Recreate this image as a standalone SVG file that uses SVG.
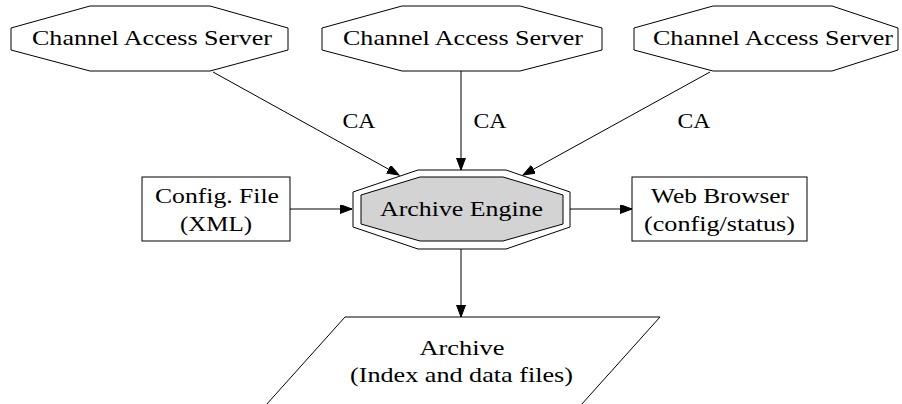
<svg xmlns="http://www.w3.org/2000/svg" width="902" height="404" viewBox="0 0 902 404">
<style>
.n{fill:#fff;stroke:#000;stroke-width:1}
.g{fill:#d3d3d3;stroke:#000;stroke-width:1}
.e{fill:none;stroke:#000;stroke-width:1}
.t{font-family:'Liberation Serif','Times New Roman',serif;font-size:21px;fill:#000;text-anchor:middle}
</style>
<defs>
<marker id="ah" markerUnits="userSpaceOnUse" markerWidth="13" markerHeight="10" refX="12" refY="4.5" orient="auto">
<path d="M0,0 L12,4.5 L0,9 z" fill="#000" stroke="#000" stroke-width="1"/>
</marker>
</defs>
<rect width="902" height="404" fill="#fff"/>
<g id="edges">
<path class="e" d="M213,72 L399,175" marker-end="url(#ah)"/>
<path class="e" d="M461,71 L461,170" marker-end="url(#ah)"/>
<path class="e" d="M710,72 L523,175" marker-end="url(#ah)"/>
<path class="e" d="M290,209 L352,209" marker-end="url(#ah)"/>
<path class="e" d="M570,209 L632,209" marker-end="url(#ah)"/>
<path class="e" d="M461,249 L461,317" marker-end="url(#ah)"/>
<text class="t" x="359" y="128" textLength="33" lengthAdjust="spacingAndGlyphs">CA</text>
<text class="t" x="490" y="128" textLength="33" lengthAdjust="spacingAndGlyphs">CA</text>
<text class="t" x="694" y="128" textLength="33" lengthAdjust="spacingAndGlyphs">CA</text>
</g>
<g id="cas1">
<polygon class="n" points="90,6 210,6 288,28 288,50 210,71 90,71 11,50 11,28"/>
<text class="t" x="152" y="45" textLength="240" lengthAdjust="spacingAndGlyphs">Channel Access Server</text>
</g>
<g id="cas2">
<polygon class="n" points="402,6 520,6 602,28 602,50 520,71 402,71 322,50 322,28"/>
<text class="t" x="463" y="45" textLength="240" lengthAdjust="spacingAndGlyphs">Channel Access Server</text>
</g>
<g id="cas3">
<polygon class="n" points="713,6 832,6 898,28 898,50 832,71 713,71 634,50 634,28"/>
<text class="t" x="773" y="45" textLength="240" lengthAdjust="spacingAndGlyphs">Channel Access Server</text>
</g>
<g id="engine">
<polygon class="n" points="418,170 506,170 570,192 570,227 506,249 418,249 353,227 353,192"/>
<polygon class="g" points="420,177 503,177 563,195 563,224 503,241 420,241 361,224 361,195"/>
<text class="t" x="461.5" y="216" textLength="163" lengthAdjust="spacingAndGlyphs">Archive Engine</text>
</g>
<g id="config">
<rect class="n" x="142" y="177" width="148" height="64"/>
<text class="t" x="217" y="203" textLength="124" lengthAdjust="spacingAndGlyphs">Config. File</text>
<text class="t" x="216" y="231" textLength="72" lengthAdjust="spacingAndGlyphs">(XML)</text>
</g>
<g id="web">
<rect class="n" x="632" y="177" width="175" height="64"/>
<text class="t" x="720" y="203" textLength="138" lengthAdjust="spacingAndGlyphs">Web Browser</text>
<text class="t" x="719.5" y="231" textLength="151" lengthAdjust="spacingAndGlyphs">(config/status)</text>
</g>
<g id="archive">
<polygon class="n" points="345,317 660,317 581,405 266,405"/>
<text class="t" x="462" y="355" textLength="85" lengthAdjust="spacingAndGlyphs">Archive</text>
<text class="t" x="461.5" y="382" textLength="223" lengthAdjust="spacingAndGlyphs">(Index and data files)</text>
</g>
</svg>
